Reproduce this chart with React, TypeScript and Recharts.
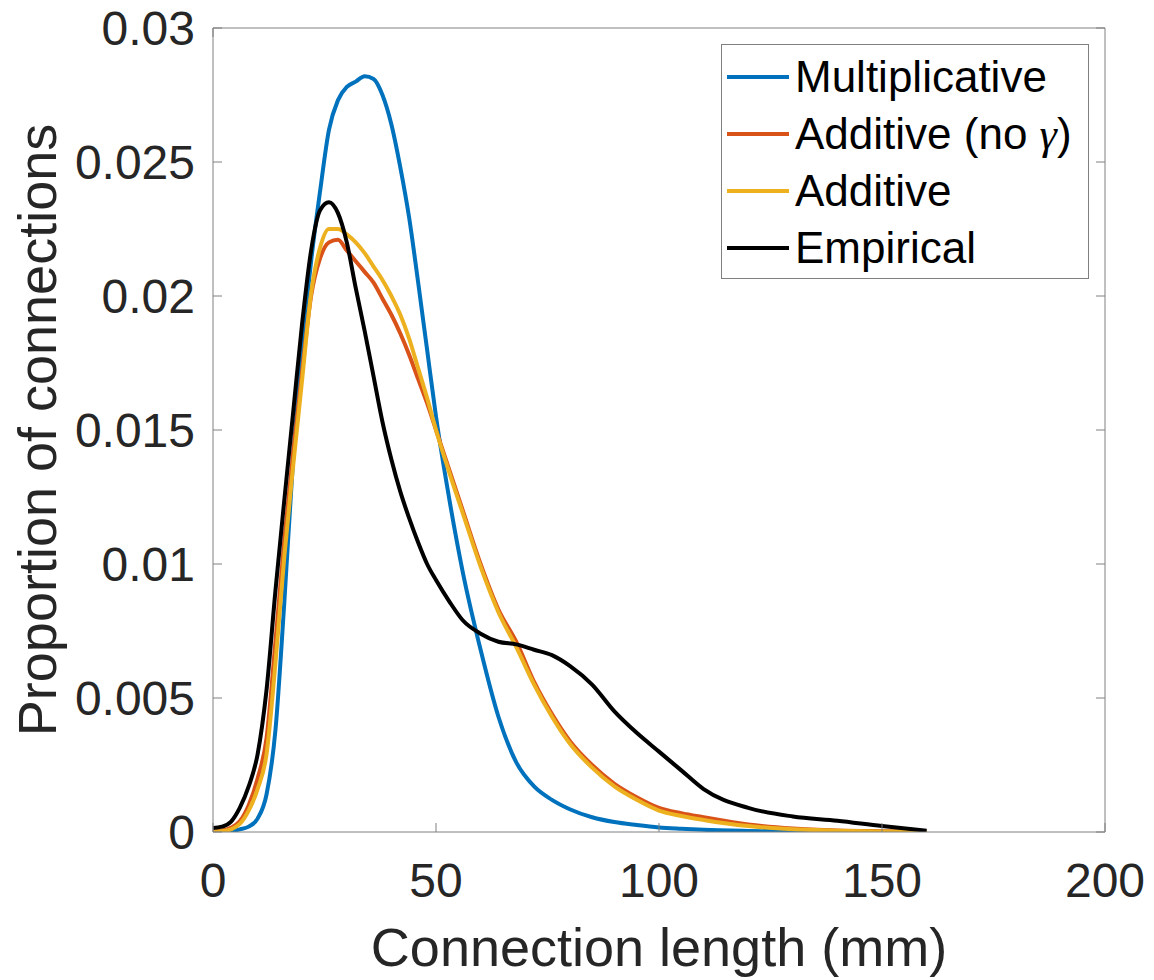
import React from 'react';
import { LineChart, Line, XAxis, YAxis, Legend, Label } from 'recharts';

// connection length (mm) sample points
const lengths = [0, 2, 4, 6, 8, 10, 12, 14, 16, 18, 20, 22, 24, 26, 28, 30, 32, 34, 36, 38, 40, 42, 44, 46, 48, 50, 53, 56, 60, 64, 68, 72, 76, 80, 85, 90, 95, 100, 105, 110, 120, 130, 140, 150, 160];

const multiplicative = [0, 0, 0.00002, 0.0001, 0.0002, 0.0005, 0.0014, 0.0038, 0.0086, 0.014, 0.018, 0.0213, 0.0239, 0.0262, 0.0273, 0.0278, 0.028, 0.0282, 0.0281, 0.0275, 0.0264, 0.0248, 0.0229, 0.0205, 0.018, 0.0155, 0.0124, 0.0097, 0.0068, 0.0043, 0.0026, 0.0017, 0.0012, 0.00085, 0.00055, 0.00037, 0.00026, 0.00017, 0.00012, 0.00008, 0.00004, 0.00002, 0.00001, 0.00001, 0];

const additiveNoGamma = [0.00003, 0.00006, 0.00016, 0.0004, 0.001, 0.002, 0.0035, 0.0071, 0.0109, 0.0142, 0.0172, 0.02, 0.0214, 0.022, 0.0221, 0.0217, 0.0213, 0.0209, 0.0205, 0.0199, 0.0193, 0.0186, 0.0178, 0.0169, 0.016, 0.015, 0.0135, 0.012, 0.01, 0.0083, 0.0071, 0.0056, 0.0044, 0.0034, 0.0025, 0.0018, 0.0013, 0.0009, 0.0007, 0.00055, 0.00028, 0.00013, 0.00006, 0.00003, 0.00001];

const additive = [0.00001, 0.00003, 0.0001, 0.0003, 0.0008, 0.0016, 0.0029, 0.0063, 0.0103, 0.0137, 0.0169, 0.0201, 0.0218, 0.0225, 0.0225, 0.0223, 0.022, 0.0216, 0.0211, 0.0206, 0.02, 0.0193, 0.0184, 0.0173, 0.0162, 0.015, 0.0134, 0.0119, 0.0099, 0.0082, 0.0069, 0.0055, 0.0043, 0.0033, 0.0024, 0.0017, 0.0012, 0.0008, 0.0006, 0.00045, 0.00022, 0.0001, 0.00005, 0.00002, 0.00001];

const empirical = [0.00015, 0.0002, 0.00038, 0.0009, 0.0017, 0.0029, 0.0053, 0.009, 0.0124, 0.0157, 0.019, 0.0217, 0.0232, 0.0235, 0.0231, 0.022, 0.0203, 0.0187, 0.017, 0.0153, 0.0139, 0.0127, 0.0117, 0.0108, 0.01, 0.0094, 0.0086, 0.0079, 0.0074, 0.0071, 0.007, 0.0068, 0.0066, 0.0062, 0.0055, 0.0045, 0.0037, 0.003, 0.0023, 0.0016, 0.0009, 0.00058, 0.00042, 0.00022, 0.00005];

const xTicks = [0, 50, 100, 150, 200];
const yTicks = [0, 0.005, 0.01, 0.015, 0.02, 0.025, 0.03];

const series = [
    { key: 'multiplicative', name: 'Multiplicative', color: '#0072BD' },
    { key: 'additiveNoGamma', name: 'Additive (no γ)', color: '#D95319' },
    { key: 'additive', name: 'Additive', color: '#EDB120' },
    { key: 'empirical', name: 'Empirical', color: '#000000' },
];

const data = lengths.map((x, i) => ({
    x,
    multiplicative: multiplicative[i],
    additiveNoGamma: additiveNoGamma[i],
    additive: additive[i],
    empirical: empirical[i],
}));

const AXIS = '#808080';
const TEXT = '#262626';

// gamma is drawn in italic serif like the TeX interpreter does
const renderName = (name: string) => {
    const parts = name.split('γ');
    if (parts.length === 1) return name;
    return (
        <>
            {parts[0]}
            <span style={{ fontFamily: '"Liberation Serif", "DejaVu Serif", serif', fontStyle: 'italic' }}>γ</span>
            {parts[1]}
        </>
    );
};

const BoxLegend = () => (
    <div
        style={{
            width: 368,
            boxSizing: 'border-box',
            border: `1px solid ${AXIS}`,
            background: '#fff',
            padding: '3px 0 2px 0',
        }}
    >
        {series.map(s => (
            <div key={s.key} style={{ display: 'flex', alignItems: 'center', height: 57 }}>
                <div style={{ width: 62, height: 4, background: s.color, marginLeft: 5, marginRight: 6 }} />
                <span style={{ fontSize: 44, color: '#000', lineHeight: '57px', whiteSpace: 'nowrap' }}>
                    {renderName(s.name)}
                </span>
            </div>
        ))}
    </div>
);

const YTitle = ({ viewBox }: any) => {
    const cx = viewBox.x + 48;
    const cy = viewBox.y + viewBox.height / 2;
    return (
        <text x={cx} y={cy} transform={`rotate(-90, ${cx}, ${cy})`} textAnchor="middle" fontSize={54} fill={TEXT}>
            Proportion of connections
        </text>
    );
};

const XTitle = ({ viewBox }: any) => (
    <text x={viewBox.x + viewBox.width / 2} y={viewBox.y + 134} textAnchor="middle" fontSize={54} fill={TEXT}>
        Connection length (mm)
    </text>
);

const App = () => {
    return (
        <div style={{ width: 1140, height: 970, fontFamily: '"Liberation Sans", Arial, sans-serif' }}>
            <LineChart width={1140} height={970} data={data} margin={{ top: 18, right: 41, bottom: 0, left: 0 }}>
                <XAxis
                    dataKey="x"
                    type="number"
                    domain={[0, 200]}
                    ticks={xTicks}
                    interval={0}
                    height={146}
                    stroke={AXIS}
                    tickSize={-9}
                    tickMargin={40}
                    tick={{ fill: TEXT, fontSize: 48 }}
                    allowDataOverflow
                >
                    <Label content={<XTitle />} />
                </XAxis>
                <XAxis
                    xAxisId="top"
                    orientation="top"
                    type="number"
                    domain={[0, 200]}
                    ticks={xTicks}
                    interval={0}
                    height={2}
                    stroke={AXIS}
                    tickSize={-9}
                    tickFormatter={() => ''}
                    allowDataOverflow
                />
                <YAxis
                    type="number"
                    domain={[0, 0.03]}
                    ticks={yTicks}
                    interval={0}
                    width={205}
                    stroke={AXIS}
                    tickSize={-9}
                    tickMargin={27}
                    tick={{ fill: TEXT, fontSize: 48 }}
                    allowDataOverflow
                >
                    <Label content={<YTitle />} />
                </YAxis>
                <YAxis
                    yAxisId="right"
                    orientation="right"
                    type="number"
                    domain={[0, 0.03]}
                    ticks={yTicks}
                    interval={0}
                    width={2}
                    stroke={AXIS}
                    tickSize={-9}
                    tickFormatter={() => ''}
                    allowDataOverflow
                />
                <Legend
                    layout="vertical"
                    align="center"
                    verticalAlign="middle"
                    content={<BoxLegend />}
                    wrapperStyle={{ left: 713, top: 36, width: 368 }}
                />
                {series.map(s => (
                    <Line
                        key={s.key}
                        type="monotone"
                        dataKey={s.key}
                        name={s.name}
                        stroke={s.color}
                        strokeWidth={4}
                        dot={false}
                        activeDot={false}
                        isAnimationActive={false}
                    />
                ))}
            </LineChart>
        </div>
    );
};

export default App;
